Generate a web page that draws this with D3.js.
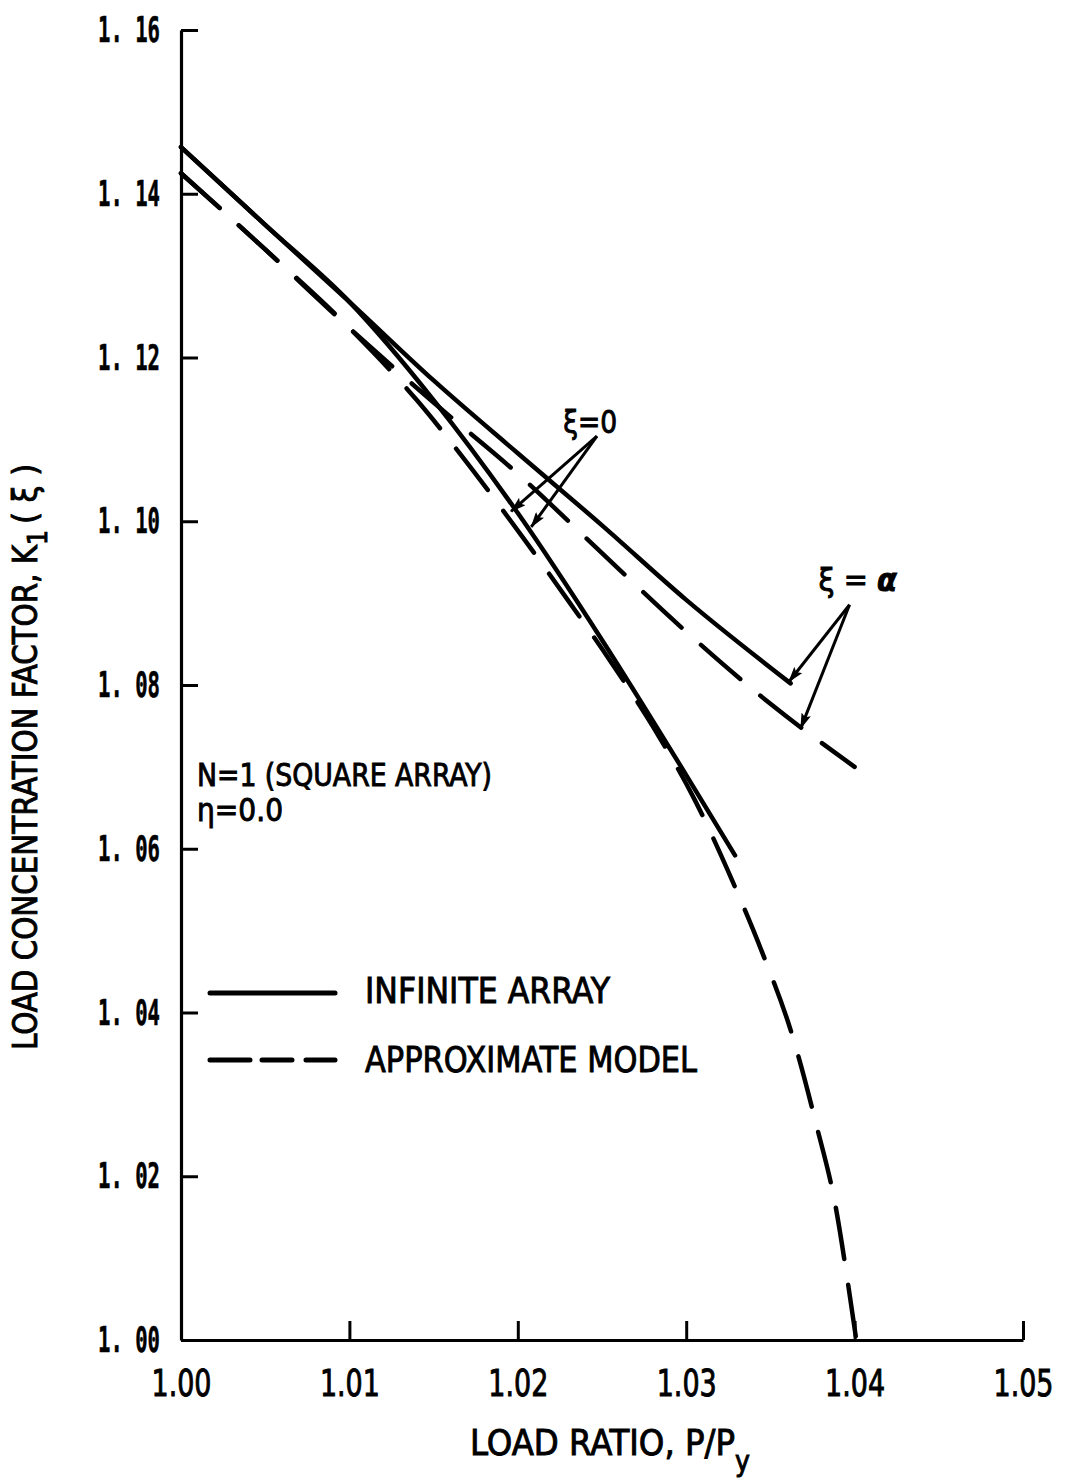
<!DOCTYPE html>
<html>
<head>
<meta charset="utf-8">
<script src="https://cdn.jsdelivr.net/npm/d3@7"></script>
<style>
  html, body { margin: 0; padding: 0; background: #fff; }
  svg { display: block; }
</style>
</head>
<body>
<svg id="chart" width="1072" height="1481"></svg>
<script>
// ---------- data ----------
const xTicks = [1.00, 1.01, 1.02, 1.03, 1.04, 1.05];
const xTickLabels = ["1.00", "1.01", "1.02", "1.03", "1.04", "1.05"];
const yTicks = [1.00, 1.02, 1.04, 1.06, 1.08, 1.10, 1.12, 1.14, 1.16];
const yTickLabels = ["1. 00", "1. 02", "1. 04", "1. 06", "1. 08", "1. 10", "1. 12", "1. 14", "1. 16"];

// Infinite array, xi = alpha (solid)
const pSolidA = [1.000, 1.005, 1.010, 1.015, 1.020, 1.025, 1.030, 1.0362];
const kSolidA = [1.1457, 1.1362, 1.1268, 1.1172, 1.1083, 1.0995, 1.0904, 1.0802];
// Infinite array, xi = 0 (solid)
const pSolid0 = [1.000, 1.005, 1.010, 1.015, 1.020, 1.025, 1.030, 1.0329];
const kSolid0 = [1.1457, 1.1362, 1.1268, 1.1148, 1.1010, 1.0855, 1.0690, 1.0592];
// Approximate model, xi = alpha (dashed)
const pDashA = [1.000, 1.005, 1.010, 1.015, 1.020, 1.025, 1.030, 1.035, 1.040];
const kDashA = [1.1425, 1.1332, 1.1236, 1.1145, 1.1058, 1.0961, 1.0865, 1.0777, 1.0700];
// Approximate model, xi = 0 (dashed)
const pDash0 = [1.000, 1.005, 1.010, 1.0140, 1.0173, 1.0202, 1.0231, 1.0256, 1.0280, 1.0305, 1.0328, 1.0345, 1.0363, 1.0377, 1.0389, 1.0396, 1.0401];
const kDash0 = [1.1425, 1.1332, 1.1236, 1.1148, 1.1063, 1.0983, 1.0900, 1.0826, 1.0750, 1.0660, 1.0558, 1.0474, 1.0372, 1.0265, 1.0160, 1.0070, 1.0000];

// annotation arrows (data coordinates): label anchor -> arrow tips
const xi0Label = [1.0243, 1.1108];
const xi0Start = [1.0247, 1.1104];
const xi0Tips = [[1.0196, 1.1012], [1.0208, 1.0993]];
const xiALabel = [1.0397, 1.0915];
const xiAStart = [1.0397, 1.0898];
const xiATips = [[1.0361, 1.0804], [1.0368, 1.0747]];

// ---------- layout ----------
const svg = d3.select("#chart");
const x = d3.scaleLinear().domain([1.00, 1.05]).range([181, 1023]);
const y = d3.scaleLinear().domain([1.00, 1.16]).range([1340, 30]);

const narrow = "'Liberation Sans Narrow', 'DejaVu Sans Condensed', 'Arial Narrow', sans-serif";
const mono = "'DejaVu Sans Mono', 'Liberation Mono', monospace";

svg.append("rect").attr("width", 1072).attr("height", 1481).attr("fill", "#fff");

// y axis
const yAxis = d3.axisLeft(y).tickValues(yTicks).tickSize(-17).tickSizeOuter(0)
  .tickPadding(21).tickFormat((d, i) => yTickLabels[i]);
const gy = svg.append("g").attr("transform", "translate(181,0)").call(yAxis);
gy.select(".domain").attr("stroke", "#000").attr("stroke-width", 3.2);
gy.selectAll(".tick line").attr("stroke", "#000").attr("stroke-width", 3);
gy.selectAll(".tick text")
  .attr("font-family", mono).attr("font-weight", "bold").attr("font-size", 36)
  .attr("fill", "#000").attr("stroke", "#000").attr("stroke-width", 0.6)
  .attr("textLength", 62).attr("lengthAdjust", "spacingAndGlyphs");

// x axis
const xAxis = d3.axisBottom(x).tickValues(xTicks).tickSize(-19).tickSizeOuter(0)
  .tickPadding(30).tickFormat((d, i) => xTickLabels[i]);
const gx = svg.append("g").attr("transform", "translate(0,1340)").call(xAxis);
gx.select(".domain").attr("stroke", "#000").attr("stroke-width", 3.2);
gx.selectAll(".tick line").attr("stroke", "#000").attr("stroke-width", 3);
gx.selectAll(".tick text")
  .attr("font-family", narrow).attr("font-size", 37).attr("fill", "#000")
  .attr("stroke", "#000").attr("stroke-width", 0.9)
  .attr("textLength", 60).attr("lengthAdjust", "spacingAndGlyphs");

// curves
const zip = (a, b) => a.map((v, i) => [v, b[i]]);
const line = d3.line().x(d => x(d[0])).y(d => y(d[1])).curve(d3.curveMonotoneX);

const series = [
  { data: zip(pSolidA, kSolidA), dash: null },
  { data: zip(pSolid0, kSolid0), dash: null },
  { data: zip(pDashA, kDashA), dash: "52,26" },
  { data: zip(pDash0, kDash0), dash: "52,26" }
];
svg.append("g").selectAll("path").data(series).join("path")
  .attr("d", d => line(d.data))
  .attr("fill", "none").attr("stroke", "#000").attr("stroke-width", 4.5)
  .attr("stroke-linecap", "round").attr("stroke-linejoin", "round")
  .attr("stroke-dasharray", d => d.dash);

// arrowhead marker
const defs = svg.append("defs");
defs.append("marker").attr("id", "ah").attr("viewBox", "0 0 16 10")
  .attr("refX", 15).attr("refY", 5).attr("markerWidth", 16).attr("markerHeight", 10)
  .attr("markerUnits", "userSpaceOnUse").attr("orient", "auto")
  .append("path").attr("d", "M0,0 L16,5 L0,10 L3,5 Z").attr("fill", "#000");

function arrows(start, tips) {
  svg.append("g").selectAll("line").data(tips).join("line")
    .attr("x1", x(start[0])).attr("y1", y(start[1]))
    .attr("x2", d => x(d[0])).attr("y2", d => y(d[1]))
    .attr("stroke", "#000").attr("stroke-width", 3)
    .attr("marker-end", "url(#ah)");
}
arrows(xi0Start, xi0Tips);
arrows(xiAStart, xiATips);

const heavy = sel => sel.attr("fill", "#000").attr("stroke", "#000").attr("stroke-width", 0.9);

heavy(svg.append("text").attr("x", x(xi0Label[0])).attr("y", y(xi0Label[1]))
  .attr("text-anchor", "middle").attr("font-family", narrow).attr("font-size", 32)
  .attr("textLength", 54).attr("lengthAdjust", "spacingAndGlyphs")
  .text("ξ=0"));
const tA = heavy(svg.append("text").attr("x", x(xiALabel[0]) - 31).attr("y", y(xiALabel[1]))
  .attr("font-family", narrow).attr("font-size", 32));
tA.append("tspan").text("ξ = ");
tA.append("tspan").attr("font-style", "italic").attr("font-weight", "bold").text("α");

// notes
heavy(svg.append("text").attr("x", 197).attr("y", 786).attr("font-family", narrow).attr("font-size", 32)
  .attr("textLength", 295).attr("lengthAdjust", "spacingAndGlyphs").text("N=1 (SQUARE ARRAY)"));
heavy(svg.append("text").attr("x", 197).attr("y", 821).attr("font-family", narrow).attr("font-size", 32)
  .attr("textLength", 86).attr("lengthAdjust", "spacingAndGlyphs").text("η=0.0"));

// legend
svg.append("line").attr("x1", 210).attr("x2", 335).attr("y1", 993).attr("y2", 993)
  .attr("stroke", "#000").attr("stroke-width", 5).attr("stroke-linecap", "round");
svg.append("line").attr("x1", 210).attr("x2", 335).attr("y1", 1060).attr("y2", 1060)
  .attr("stroke", "#000").attr("stroke-width", 5).attr("stroke-linecap", "round")
  .attr("stroke-dasharray", "40,12,30,14,30");
heavy(svg.append("text").attr("x", 365).attr("y", 1003).attr("font-family", narrow).attr("font-size", 36)
  .attr("textLength", 245).attr("lengthAdjust", "spacingAndGlyphs").text("INFINITE ARRAY"));
heavy(svg.append("text").attr("x", 365).attr("y", 1072).attr("font-family", narrow).attr("font-size", 36)
  .attr("textLength", 332).attr("lengthAdjust", "spacingAndGlyphs").text("APPROXIMATE MODEL"));

// axis titles
const xt = heavy(svg.append("text").attr("x", 470).attr("y", 1455).attr("font-family", narrow).attr("font-size", 36));
xt.append("tspan").attr("textLength", 265).attr("lengthAdjust", "spacingAndGlyphs").text("LOAD RATIO,  P/P");
xt.append("tspan").attr("dy", 16).attr("font-size", 28).text("y");

const yt = heavy(svg.append("text").attr("transform", "translate(37,1050) rotate(-90)")
  .attr("font-family", narrow).attr("font-size", 34));
yt.append("tspan").attr("textLength", 505).attr("lengthAdjust", "spacingAndGlyphs")
  .text("LOAD CONCENTRATION FACTOR, K");
yt.append("tspan").attr("dy", 10).attr("font-size", 26).text("1");
yt.append("tspan").attr("dy", -10).attr("dx", 6).text("( ξ )");
</script>
</body>
</html>
